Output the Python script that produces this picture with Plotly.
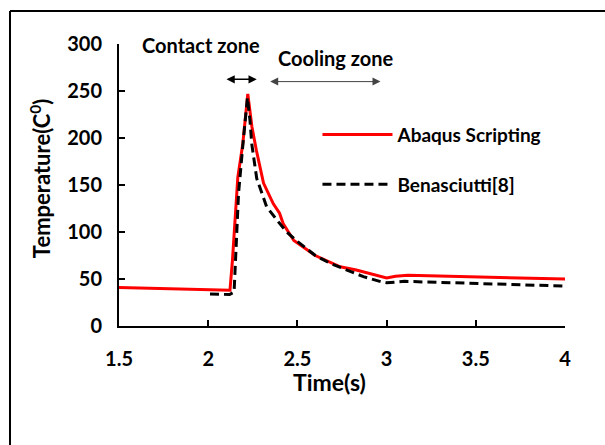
import plotly.graph_objects as go

# Abaqus Scripting (red solid)
t_abaqus = [1.5, 2.122, 2.136, 2.166, 2.194, 2.222, 2.245, 2.27, 2.31, 2.365, 2.40, 2.42, 2.48, 2.6, 2.74, 2.83, 3.0, 3.05, 3.12, 3.5, 4.0]
T_abaqus = [41, 38, 70, 158, 194, 247, 212, 187, 152, 130, 120, 109, 91, 75, 63, 59.5, 51, 53, 54, 52.5, 50]

# Benasciutti[8] (black dashed)
t_bena = [2.01, 2.12, 2.145, 2.156, 2.17, 2.195, 2.22, 2.234, 2.244, 2.272, 2.327, 2.384, 2.44, 2.5, 2.6, 2.68, 2.8, 2.87, 2.97, 3.0, 3.1, 3.5, 4.0]
T_bena = [34, 33.5, 36, 84, 141, 194, 243, 219, 194, 157, 127, 113, 100, 90, 75, 67, 58, 52.5, 47, 46, 47.5, 45.5, 42.5]

x_ticks = [1.5, 2, 2.5, 3, 3.5, 4]
x_tick_labels = ["1.5", "2", "2.5", "3", "3.5", "4"]
y_ticks = [0, 50, 100, 150, 200, 250, 300]

FONT = "Lato"

fig = go.Figure()
fig.add_trace(go.Scatter(x=t_abaqus, y=T_abaqus, mode="lines", name="Abaqus Scripting",
                         line=dict(color="#ff0000", width=3), legendgroup="a"))
fig.add_trace(go.Scatter(x=t_bena, y=T_bena, mode="lines", name="Benasciutti[8]",
                         line=dict(color="#000000", width=3, dash="9px,5px"), legendgroup="b"))

fig.update_layout(
    width=605, height=445,
    margin=dict(l=119, r=40, t=44, b=119),
    plot_bgcolor="white", paper_bgcolor="white",
    font=dict(family=FONT, color="black", size=20, weight="bold"),
    showlegend=True,
    legend=dict(x=0.445, y=0.59, xanchor="left", yanchor="middle",
                bgcolor="rgba(0,0,0,0)", borderwidth=0, itemwidth=70,
                traceorder="grouped", tracegroupgap=22,
                font=dict(family=FONT, size=19, weight="bold")),
    xaxis=dict(range=[1.5, 4], tickvals=x_ticks, ticktext=x_tick_labels,
               showgrid=False, zeroline=False, showline=True, linecolor="black", linewidth=2,
               ticks="inside", ticklen=6, tickwidth=1.5, tickcolor="black",
               ticklabelstandoff=14,
               tickfont=dict(family=FONT, size=20, weight="bold")),
    yaxis=dict(range=[0, 300], tickvals=y_ticks,
               showgrid=False, zeroline=False, showline=True, linecolor="black", linewidth=2,
               ticks="inside", ticklen=6, tickwidth=1.5, tickcolor="black",
               ticklabelstandoff=11,
               tickfont=dict(family=FONT, size=20, weight="bold")),
)

# axis titles
fig.add_annotation(text="Time(s)", xref="paper", yref="paper", x=0.471, y=-0.199,
                   xanchor="center", yanchor="middle",
                   showarrow=False, font=dict(family=FONT, size=23, weight="bold"))
fig.add_annotation(text="Temperature(C<sup>0</sup>)", xref="paper", yref="paper", x=-0.177, y=0.521,
                   xanchor="center", yanchor="middle",
                   textangle=-90, showarrow=False, font=dict(family=FONT, size=22, weight="bold"))

# zone labels
fig.add_annotation(text="Contact zone", xref="x", yref="y", x=1.96, y=299,
                   xanchor="center", yanchor="middle",
                   showarrow=False, font=dict(family=FONT, size=20, weight="bold"))
fig.add_annotation(text="Cooling zone", xref="x", yref="y", x=2.716, y=285,
                   xanchor="center", yanchor="middle",
                   showarrow=False, font=dict(family=FONT, size=20, weight="bold"))

# double-headed arrows
fig.add_annotation(x=2.272, y=262.4, ax=2.094, ay=262.4, xref="x", yref="y", axref="x", ayref="y",
                   text="", showarrow=True, arrowhead=2, startarrowhead=2, arrowside="end+start",
                   arrowwidth=1.5, arrowsize=1.1, startarrowsize=1.1, arrowcolor="black")
fig.add_annotation(x=2.966, y=260, ax=2.339, ay=260, xref="x", yref="y", axref="x", ayref="y",
                   text="", showarrow=True, arrowhead=2, startarrowhead=2, arrowside="end+start",
                   arrowwidth=1, arrowsize=1.6, startarrowsize=1.6, arrowcolor="#444444")

# outer frame (left and top edges)
fig.add_shape(type="line", xref="paper", yref="paper", x0=-0.2444, x1=-0.2444, y0=1.117, y1=-0.5,
              line=dict(color="black", width=2))
fig.add_shape(type="line", xref="paper", yref="paper", x0=-0.2444, x1=1.2, y0=1.117, y1=1.117,
              line=dict(color="black", width=2))

fig.write_html("out.html", config={"displayModeBar": False},
               post_script="document.body.style.margin='0';document.body.style.padding='0';")
